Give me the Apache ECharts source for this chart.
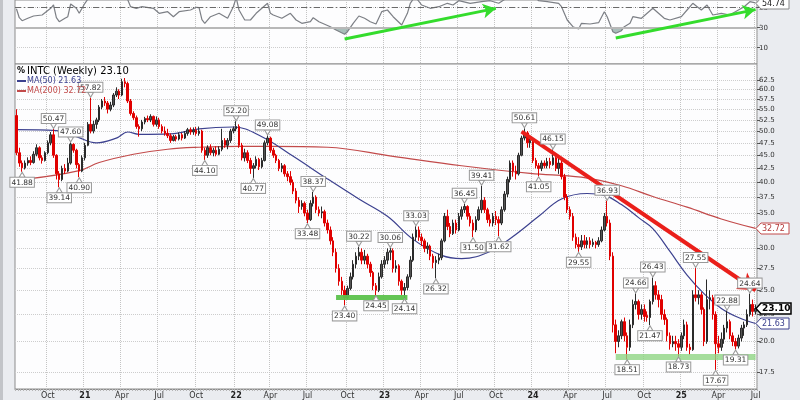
<!DOCTYPE html>
<html><head><meta charset="utf-8">
<script src="https://cdn.jsdelivr.net/npm/echarts@6/dist/echarts.min.js"></script>
<style>html,body{margin:0;padding:0;background:#eaecf0}#c{width:800px;height:400px}</style>
</head><body><div id="c"></div>
<script>
// ---- data (weekly INTC) ----
const startDate = '2020-07-17';
const open = [53.5,45.5,43.5,42.6,43.5,44,43.6,45.2,46.5,44.5,
44,45.5,47.5,49.2,45,41.5,40.5,42.5,42,43.5,
47.2,46,43.2,42,44.5,47,51.5,50,51.5,52.5,
55.5,57,56.5,55,56,58.5,59.5,58.5,62,61.5,
57,54,53,51,50.5,52,52.8,52.5,53.3,51.5,
52.5,51,50,49.5,49,48,48.8,48.3,49.2,48.5,
49.5,50.3,49.8,50.2,49.5,50,46,45,46.5,45.5,
46,45.2,46.2,48,47,48,50,50.5,51,47,
44.5,45.5,44,42.5,43,44.2,42.8,44,47.5,48.5,
46,45,44,42.5,43,41.5,41,40,38.5,37,
36,36.5,35,34,36.5,37.5,35.5,35,35.2,33.5,
32.5,31,29.5,27.5,26,25,24.2,25.2,26.5,28,
29,29.5,28.5,29,28,27,25.5,25,26.5,28,
28.5,29.5,29.7,27.5,27.8,26,25,25.3,26.5,28.5,
31.5,32.5,31.5,31,30,30.3,29,28.2,28.5,28.8,
31,34.5,33,32,33.5,32.5,34.5,35.5,36,34.5,
33.5,32.5,34,35.5,37,35.5,34,33.5,34.5,34,
33.5,35.5,38,40.5,43.5,42,41.5,45,48.5,49.6,
47.5,48,44,43,42.5,43.5,43,43.8,43.2,44.5,
42.5,43.5,41,37.5,35.5,34.5,31.5,30.5,30.2,31,
30.5,31,30.5,30.8,30.5,31,32.5,34.5,33.5,29,
21.5,20,20.5,21.8,20.5,19.5,21.5,23.5,23.8,22.5,
23,22.4,22.2,23.8,25.5,24.5,24,22.5,22,20.5,
19.8,20,19.8,19.5,20.5,21.5,19.5,19.3,24.5,24.2,
24.5,23,20,24,24.2,22.5,19.8,19.5,20.2,21.2,
21.8,20.5,20,19.6,20.3,21.2,21.5,22.5,23.5,22.8];
const close = [45.5,43.5,42.6,43.5,44,43.6,45.2,46.5,44.5,44,
45.5,47.5,49.2,45,41.5,40.5,42.5,42,43.5,47.2,
46,43.2,42,44.5,47,51.5,50,51.5,52.5,55.5,
57,56.5,55,56,58.5,59.5,58.5,62,61.5,57,
54,53,51,50.5,52,52.8,52.5,53.3,51.5,52.5,
51,50,49.5,49,48,48.8,48.3,49.2,48.5,49.5,
50.3,49.8,50.2,49.5,50,46,45,46.5,45.5,46,
45.2,46.2,48,47,48,50,50.5,51,47,44.5,
45.5,44,42.5,43,44.2,42.8,44,47.5,48.5,46,
45,44,42.5,43,41.5,41,40,38.5,37,36,
36.5,35,34,36.5,37.5,35.5,35,35.2,33.5,32.5,
31,29.5,27.5,26,25,24.2,25.2,26.5,28,29,
29.5,28.5,29,28,27,25.5,25,26.5,28,28.5,
29.5,29.7,27.5,27.8,26,25,25.3,26.5,28.5,31.5,
32.5,31.5,31,30,30.3,29,28.2,28.5,28.8,31,
34.5,33,32,33.5,32.5,34.5,35.5,36,34.5,33.5,
32.5,34,35.5,37,35.5,34,33.5,34.5,34,33.5,
35.5,38,40.5,43.5,42,41.5,45,48.5,49.6,47.5,
48,44,43,42.5,43.5,43,43.8,43.2,44.5,42.5,
43.5,41,37.5,35.5,34.5,31.5,30.5,30.2,31,30.5,
31,30.5,30.8,30.5,31,32.5,34.5,33.5,29,21.5,
20,20.5,21.8,20.5,19.5,21.5,23.5,23.8,22.5,23,
22.3,22.2,23.8,25.5,24.5,24,22.5,22,20.5,19.8,
20,19.8,19.5,20.5,21.5,19.5,19.3,24.5,24.2,24.5,
23,20,24,24.2,22.5,19.8,19.5,20.2,21.2,21.8,
20.5,20,19.6,20.3,21.2,21.5,22.5,23.5,22.8,23.1];
const low = [45,42.8,41.88,42.3,43,43.1,43.4,44.8,44,43.4,
43.8,45.2,47,44.5,40.5,39.14,40.2,41.5,41.8,43.2,
45.5,42.5,40.9,41.8,44,46.8,49.5,49.5,50.5,52,
55,55.8,54,54.5,55.5,58,57.5,58.2,60.5,56.5,
53.5,52.5,50.5,48.8,50,51.5,52,52,51,51,
50.5,49.5,49,48.5,47.5,47.8,47.8,48,48,48.3,
49,49.2,49.2,49,49,45.5,44.1,44.5,45,44.8,
44.8,45,45.8,46.5,46.2,47.5,49.5,50,46.5,44,
43.8,43.5,41.5,40.77,42.5,42.2,42.5,43.8,47,45.5,
44.5,43.5,42,41.8,41,40.2,39.5,38,36.5,35,
35.5,34.5,33.48,33.8,36,35,34.5,34.2,33,32,
30.5,29,27,25.5,24.5,23.4,24,25,26.2,27.5,
28.5,28,28,27.5,26.5,25,24.45,24.8,26.3,27.5,
28,28.5,27,27,25.5,24.5,24.14,25,26.2,28.3,
31,31,30.3,29.5,29.3,28.5,27.5,26.32,28,28.5,
30.8,32.5,31.5,31.8,32,32.3,34,35,34,33,
31.5,32.2,33.8,35,35,33.5,33,33,33.2,31.62,
33.2,35.2,37.5,40,41,40.5,41.2,44.8,48,46.5,
46.5,43.5,42.5,41.05,42,42.5,42.5,42.5,43,42,
41.5,40.5,37,35,34,31,30,29.55,29.8,30,
30,30,30.2,30,30.2,30.8,32.3,33,28.5,20.8,
19,19.5,20.2,20,18.51,19.2,21.2,23,22,22,
21.8,21.8,21.47,23.5,24,23.2,22,21.5,20,19.3,
19.5,19.2,18.73,19.2,20.2,19.2,18.9,19.2,23.8,23.5,
22.5,19.6,19.8,23,22,17.67,19,19.2,19.8,20.8,
20.2,19.6,19.31,19.4,20,20.5,21.3,22.3,22.3,22.5];
const high = [55,46.5,44,44,44.6,44.8,45.8,47.2,46.8,45,
45.8,48,49.8,50.47,45.2,42,43,43.3,44.5,47.6,
47.4,46.3,43.5,45,47.5,52,57.82,52.3,53,56,
57.5,58,57,56.8,59,60.5,60,62.8,63,62,
57.5,54.5,53.5,51.5,52.5,53.2,53.5,53.8,53.5,53.3,
53,51.5,51,50.5,49.5,49.2,49.2,49.7,49.6,50,
50.7,50.8,50.8,50.9,51,50.3,46.5,47,47.2,46.5,
46.8,46.8,50.5,48.5,48.5,50.5,51,52.2,51.5,47.5,
46.3,46,44.5,43.5,44.8,44.5,44.5,48,49.08,48.8,
46.5,45.3,44.3,43.5,43.3,42,42,40.5,39,37.5,
37,36.8,35.5,37,38.37,37.8,36,36,35.5,34,
33,31.5,30,28,26.5,25.5,25.5,27,28.5,29.5,
30.22,30,29.8,29.3,28.3,27.2,25.8,27,28.5,29,
30,30.06,30,28.5,28,26.2,25.8,26.8,29,32,
33.03,33,32,31.3,30.8,30.5,29.3,29,29.3,31.3,
35,35.5,33.5,34,34,35,36,36.45,36.2,35,
34,34.5,36,39.41,37.5,35.8,34.8,35,35.3,34.5,
36,38.5,41,44,44,43,45.5,49,50.61,50,
48.5,48.2,44.5,43.5,44,44,44.5,44.5,46.15,45,
44.5,44,41.5,38,36,35,32,31.5,31.8,31.8,
31.5,31.5,31.3,31,31.5,33,35,36.93,34,29.5,
22,21,22,22.2,20.8,22,24,24.66,24,23.5,
23.5,22.8,24,26.43,26,25,24.5,23,22.2,20.8,
20.5,20.5,20.2,20.8,22,21.8,19.8,25,27.55,25,
24.8,23.2,26.2,25,24.5,22.8,20.5,20.8,21.5,22.88,
22,20.8,20.3,20.6,21.5,21.8,23,24.64,24,23.5];

const ma50Idx = [0,14,21,28,35,39,43,54,64,76,86,97,109,120,130,139,149,156,166,174,183,191,200,206,212,218,223,229,235,241,247,253,259];
const ma50Val = [50.3,50.1,48.8,47.5,48.5,49.8,49.3,49.4,50.5,50.9,48.8,44.8,40.6,37.2,34.5,31.2,29.1,28.7,29.6,31.6,34.5,37.2,38.1,37.8,36.3,34.3,32.7,29.6,26.7,24.6,23.1,22.2,21.63];
const ma200Idx = [4,22,29,41,53,64,78,89,109,132,156,180,198,212,223,235,247,259];
const ma200Val = [40.6,42.1,43.6,45.2,46.2,46.6,46.8,46.8,46.6,44.8,43,41.6,40.9,39.4,37.6,35.9,34.1,32.72];

const rsiIdx = [0,1,2,4,6,9,12,13,14,15,17,18,19,21,22,24,25,27,29,31,33,35,37,38,39,40,42,44,48,50,53,55,57,61,63,64,65,66,68,71,74,76,77,78,80,82,84,87,88,89,90,93,96,98,100,103,104,106,110,112,115,116,118,120,122,124,126,128,130,132,135,137,138,139,140,142,145,148,151,153,155,159,163,166,169,172,174,176,178,180,183,186,190,191,193,195,197,198,201,204,206,207,209,210,212,213,215,216,219,223,225,227,229,233,235,237,240,242,244,247,250,251,255,257,259];
const rsiVal = [49,40,37,39.4,41.7,42.7,49.4,52.7,40,36,39.4,41,53.7,49.4,44.4,54.4,58.5,64,63,66,62,66,70,66,58,51,49.4,51,49.4,44.4,46,41,46,47.7,50.4,50,38,34.4,41,44.4,39.4,51,60,47.7,37.7,37.7,44.4,52,54.4,44.4,42.7,39.4,44.4,37.7,34.4,36,40,36,31,27.7,23.4,26,34.4,41.7,39.4,36,33.7,46,47.7,41,32.7,44.4,54.4,58.5,60,52.7,49.4,51,54.4,52.7,57,54.4,56,57,54.4,60,70,72,74,65,57,56,54.4,51,37.7,31,28.7,34.4,33.7,35,46,41,26,24.4,27,31,34.4,41,39.4,49.4,44.4,39.4,37.7,41,47.7,54.4,47.7,52.7,42.7,44.4,42.7,44.4,51,56,54.74];

const highIdx = [13,19,26,77,88,104,120,131,140,157,163,178,188,207,217,223,238,249,257];
const highVal = [50.47,47.60,57.82,52.20,49.08,38.37,30.22,30.06,33.03,36.45,39.41,50.61,46.15,36.93,24.66,26.43,27.55,22.88,24.64];
const lowIdx = [2,15,22,66,83,102,115,126,136,147,160,169,183,197,214,222,232,245,252];
const lowVal = [41.88,39.14,40.90,44.10,40.77,33.48,23.40,24.45,24.14,26.32,31.50,31.62,41.05,29.55,18.51,21.47,18.73,17.67,19.31];

const priceTicks = [17.5,20,22.5,25,27.5,30,32.5,35,37.5,40,42.5,45,47.5,50,52.5,55,57.5,60,62.5];
const rsiTicks = [10,30,50];
const monthNames = ['Jan','Feb','Mar','Apr','May','Jun','Jul','Aug','Sep','Oct','Nov','Dec'];

// hand-drawn annotation lines (index, value)
const redTrend = [[177,49.9],[259,25.0]];
const greenBase1 = [[112,24.25],[137,24.25]];
const greenBase2 = [[210,18.72],[259,18.72]];
const rsiArrow1 = [[115,18.7],[168,49.3]];
const rsiArrow2 = [[210,19.7],[259,48.1]];

// ---- build ----
const L = Math.log;
const N = close.length;
const dates = [];
(function(){ const d0 = Date.parse(startDate + 'T00:00:00Z');
  for (let i = 0; i < N; i++) dates.push(new Date(d0 + i*7*86400000).toISOString().slice(0,10)); })();
const mon = s => +s.slice(5,7);
const isQ = i => { const m = mon(dates[i]); return (m-1)%3===0 && i>0 && mon(dates[i-1])!==m; };

const candle = open.map((o,i)=>[L(o),L(close[i]),L(low[i]),L(high[i])]);
const ma50 = ma50Idx.map((i,k)=>[i, L(ma50Val[k])]);
const ma200 = ma200Idx.map((i,k)=>[i, L(ma200Val[k])]);
const rsi = rsiIdx.map((i,k)=>[i, rsiVal[k]]);

const lastClose = close[N-1], lastMA50 = ma50Val[ma50Val.length-1], lastMA200 = ma200Val[ma200Val.length-1], lastRsi = rsiVal[rsiVal.length-1];

const FF = 'DejaVu Sans';
const gridLine = {show:true, lineStyle:{color:'#cdcdcd', type:'dotted', width:1}};
const xBase = {type:'category', data:dates, boundaryGap:true,
  splitLine:{show:true, interval:(i)=>isQ(i), lineStyle:{color:'#c4c4c4', type:'dotted'}}};

const tentDown = 'path://M0,0L10,0L5,7Z';
const tentUp = 'path://M5,0L10,7L0,7Z';
const markPts = [];
highIdx.forEach((i,k)=>markPts.push({coord:[i, L(highVal[k])], value:highVal[k], symbol:tentDown, symbolSize:[6,5], symbolOffset:[0,-3], label:{position:'top', distance:0}}));
lowIdx.forEach((i,k)=>markPts.push({coord:[i, L(lowVal[k])], value:lowVal[k], symbol:tentUp, symbolSize:[6,5], symbolOffset:[0,3], label:{position:'bottom', distance:0}}));

const seg = (pts, style, arrow) => [
  {coord:[pts[0][0], pts[0][1]], lineStyle:style, symbol:'none'},
  {coord:[pts[1][0], pts[1][1]], lineStyle:style, symbol: arrow ? 'arrow' : 'none', symbolSize: arrow || 0}
];
const logPts = p => p.map(q=>[q[0], L(q[1])]);

const rsiMin = -6.3, rsiMax = 57.7;
const pMin = L(16.26), pMax = L(66.97);

const option = {
  animation:false,
  backgroundColor:'#eaecf0',
  textStyle:{fontFamily:FF},
  grid:[
    {left:15, right:43, top:0, height:64, show:true, backgroundColor:'#fdfdfe', borderColor:'#8c8c8c', borderWidth:1},
    {left:15, right:43, top:64, height:328, show:true, backgroundColor:'#fdfdfe', borderColor:'#8c8c8c', borderWidth:1}
  ],
  xAxis:[
    Object.assign({}, xBase, {gridIndex:0, axisLine:{show:false}, axisTick:{show:false}, axisLabel:{show:false}}),
    Object.assign({}, xBase, {gridIndex:1,
      axisLine:{show:true, lineStyle:{color:'#8c8c8c'}},
      axisTick:{show:true, interval:0, length:2, lineStyle:{color:'#b5b5b5'}},
      axisLabel:{interval:(i)=>isQ(i), margin:3, fontSize:8, color:'#333', fontFamily:FF,
        formatter:(v)=>{const m=mon(v); return m===1 ? '{b|'+v.slice(2,4)+'}' : monthNames[m-1];},
        rich:{b:{fontWeight:'bold', fontSize:8, color:'#222', fontFamily:FF}}}})
  ],
  yAxis:[
    {type:'value', gridIndex:0, position:'right', min:rsiMin, max:rsiMax,
      axisLine:{show:false},
      axisTick:{show:true, length:3, customValues:rsiTicks, lineStyle:{color:'#555'}},
      axisLabel:{customValues:rsiTicks, fontSize:7, color:'#333', margin:2, fontFamily:FF},
      splitLine:gridLine},
    {type:'value', gridIndex:1, position:'right', min:pMin, max:pMax,
      axisLine:{show:false},
      axisTick:{show:true, length:3, customValues:priceTicks.map(L), lineStyle:{color:'#555'}},
      axisLabel:{customValues:priceTicks.map(L), formatter:(v)=>Math.exp(v).toFixed(1), fontSize:7, color:'#333', margin:2, fontFamily:FF},
      splitLine:gridLine}
  ],
  series:[
    {id:'rsi', type:'line', xAxisIndex:0, yAxisIndex:0, data:rsi, symbol:'none', z:3,
      lineStyle:{color:'#7c7f85', width:1.2}, areaStyle:{origin:30, color:'rgba(0,0,0,0)'},
      markLine:{silent:true, animation:false, symbol:['none','none'], label:{show:false}, emphasis:{disabled:true},
        data:[
          {yAxis:30, lineStyle:{color:'#b8b8b8', width:2, type:'solid'}},
          {yAxis:50, lineStyle:{color:'#6a6a6a', width:1, type:[6,3,1,3]}},
          seg(rsiArrow1, {color:'#34dc2c', width:3, type:'solid'}, [11,13]),
          seg(rsiArrow2, {color:'#34dc2c', width:3, type:'solid'}, [11,13])
        ]}},
    {type:'line', xAxisIndex:1, yAxisIndex:1, data:ma200, symbol:'none', smooth:0.4, z:1,
      lineStyle:{color:'#c24a4a', width:1.2}},
    {type:'line', xAxisIndex:1, yAxisIndex:1, data:ma50, symbol:'none', smooth:0.4, z:1,
      lineStyle:{color:'#3c418f', width:1.2}},
    {type:'candlestick', xAxisIndex:1, yAxisIndex:1, data:candle, barWidth:2, z:2,
      itemStyle:{color:'#555', color0:'#e00000', borderColor:'#2a2a2a', borderColor0:'#e00000', borderWidth:1},
      markPoint:{silent:true, animation:false, data:markPts,
        itemStyle:{color:'#fff', borderColor:'#999', borderWidth:1},
        label:{show:true, formatter:(p)=>p.value.toFixed(2), fontSize:7.5, color:'#333', fontFamily:FF,
          backgroundColor:'#fff', borderColor:'#999', borderWidth:1, padding:[1,1,0,1]}},
      markLine:{silent:true, animation:false, symbol:['none','none'], label:{show:false}, emphasis:{disabled:true},
        data:[
          seg(logPts(greenBase1), {color:'#5cc24c', width:5, type:'solid', opacity:0.95}),
          seg(logPts(greenBase2), {color:'#8fd483', width:6, type:'solid', opacity:0.8}),
          seg(logPts(redTrend), {color:'#ea1f1a', width:4, type:'solid'}, [15,17])
        ]}}
  ]
};

const chart = echarts.init(document.getElementById('c'));
chart.setOption(option);

// RSI shading only below 30
const y30 = chart.convertToPixel({yAxisIndex:0}, 30);
const fc = 'rgba(120,152,146,0.9)';
chart.setOption({series:[{id:'rsi', areaStyle:{origin:30, color:new echarts.graphic.LinearGradient(0,0,0,400,[
  {offset:0,color:'rgba(120,152,146,0)'},{offset:y30/400,color:'rgba(120,152,146,0)'},
  {offset:Math.min(1,y30/400+0.0005),color:fc},{offset:1,color:fc}], true)}}]});

// right-side value tags and legend
function tag(y, txt, col, border, bold, lw){
  y = Math.round(y)+0.5;
  const x0=756, x1=761, x2=bold?791:789, h=5.5;
  return [
    {type:'polygon', z:100, shape:{points:[[x0,y],[x1,y-h],[x2,y-h],[x2,y+h],[x1,y+h]]}, style:{fill:'#fff', stroke:border, lineWidth:lw||1}},
    {type:'text', z:101, x:x1+1, y:y, style:{text:txt, fill:col, font:(bold?'bold 9px ':'8px ')+FF, align:'left', verticalAlign:'middle'}}
  ];
}
const g = [];
g.push({type:'rect', z:100, shape:{x:0,y:0,width:3,height:400}, style:{fill:'#c2c4c8'}});
g.push(...tag(chart.convertToPixel({yAxisIndex:1}, L(lastMA200)), lastMA200.toFixed(2), '#b43a3a', '#c24a4a'));
g.push(...tag(chart.convertToPixel({yAxisIndex:1}, L(lastClose)), lastClose.toFixed(2), '#000', '#000', true, 1.5));
g.push(...tag(chart.convertToPixel({yAxisIndex:1}, L(lastMA50)), lastMA50.toFixed(2), '#3c418f', '#3c418f'));
g.push(...tag(chart.convertToPixel({yAxisIndex:0}, lastRsi), lastRsi.toFixed(2), '#222', '#888'));
g.push({type:'text', z:110, x:17, y:71, style:{text:'%', fill:'#000', font:'bold 8px '+FF, verticalAlign:'middle'}});
g.push({type:'text', z:110, x:27, y:71, style:{text:'INTC (Weekly) '+lastClose.toFixed(2), fill:'#000', font:'10px '+FF, verticalAlign:'middle'}});
g.push({type:'line', z:110, shape:{x1:17,y1:81,x2:26,y2:81}, style:{stroke:'#3c418f', lineWidth:2}});
g.push({type:'text', z:110, x:27, y:81, style:{text:'MA(50) '+lastMA50.toFixed(2), fill:'#3c418f', font:'8px '+FF, verticalAlign:'middle'}});
g.push({type:'line', z:110, shape:{x1:17,y1:91,x2:26,y2:91}, style:{stroke:'#c24a4a', lineWidth:2}});
g.push({type:'text', z:110, x:27, y:91, style:{text:'MA(200) '+lastMA200.toFixed(2), fill:'#c24a4a', font:'8px '+FF, verticalAlign:'middle'}});
chart.setOption({graphic:g});
</script></body></html>
